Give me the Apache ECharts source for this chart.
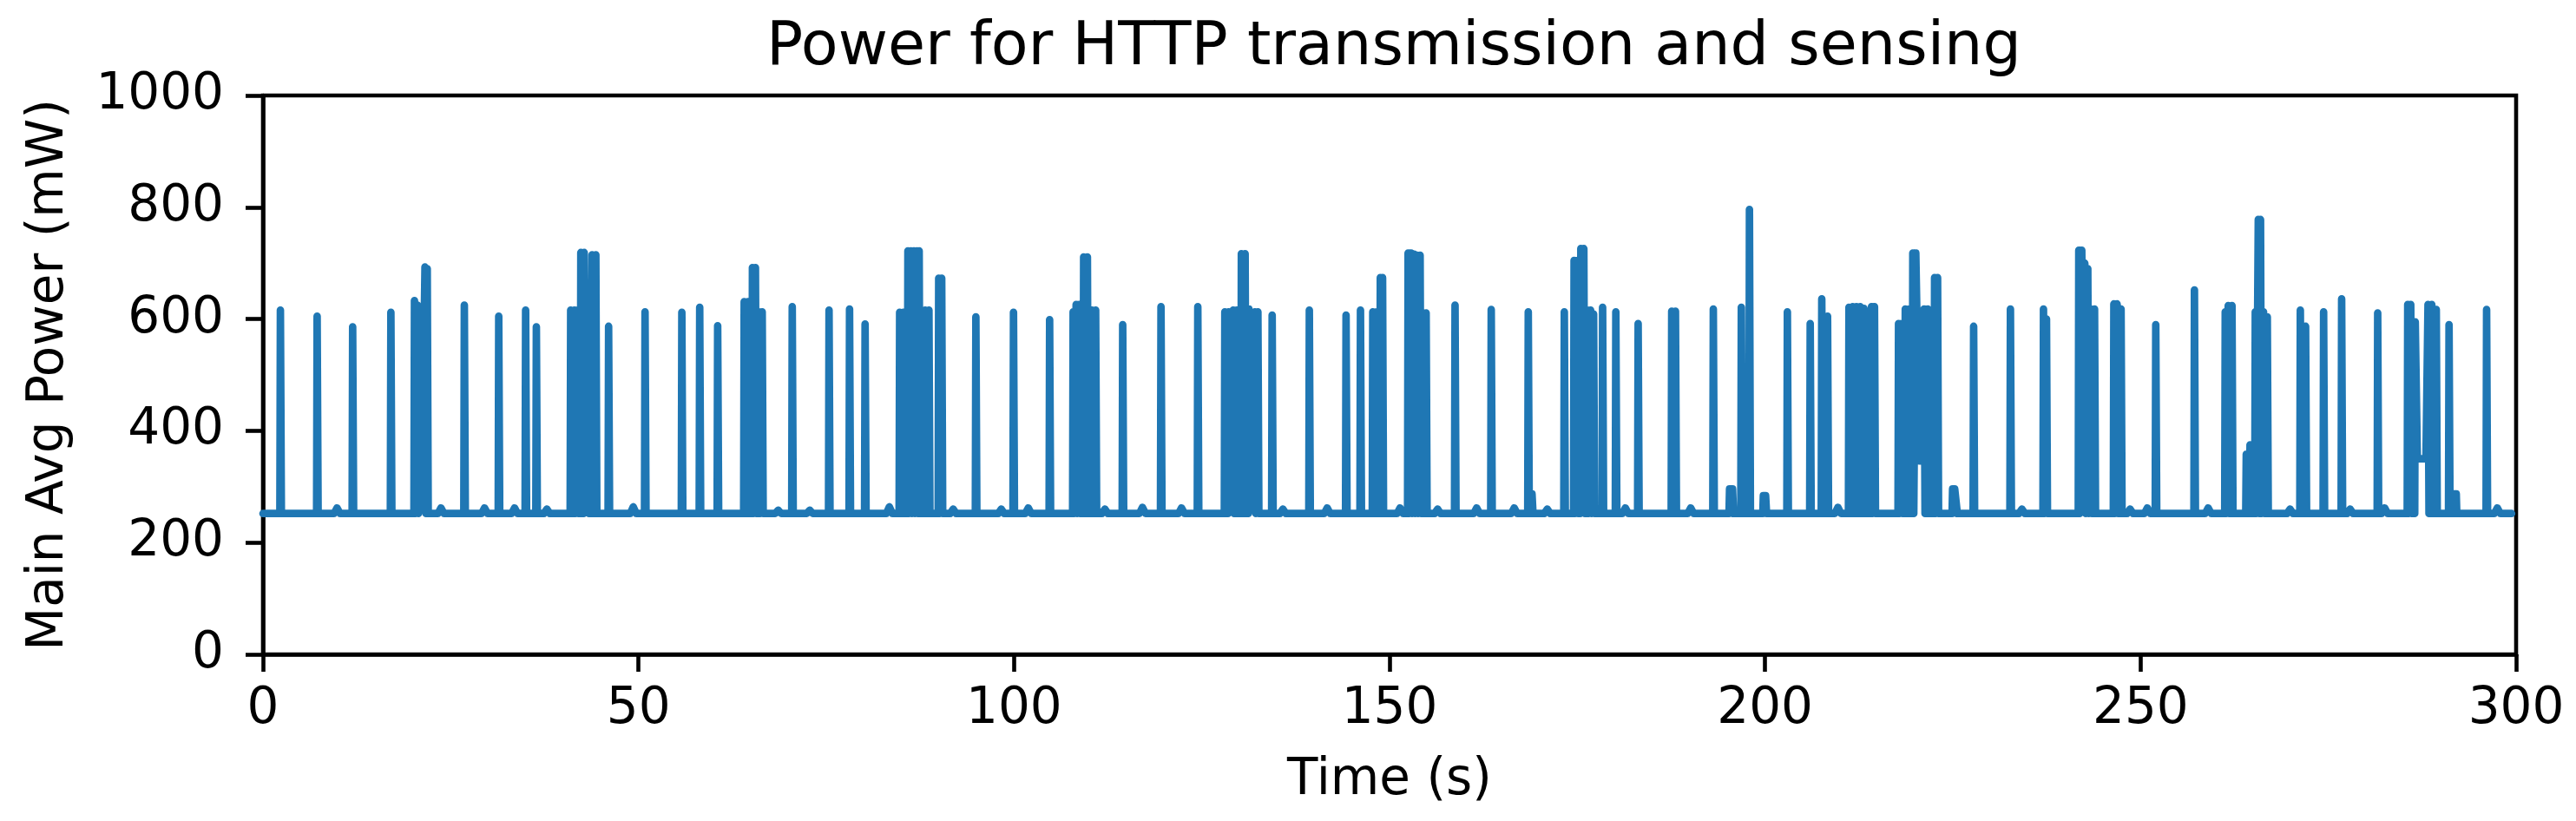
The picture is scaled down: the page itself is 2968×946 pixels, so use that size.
<!DOCTYPE html>
<html>
<head>
<meta charset="utf-8">
<script src="https://cdn.jsdelivr.net/npm/echarts@6/dist/echarts.min.js"></script>
<style>
html,body{margin:0;padding:0;background:#fff;}
#chart{width:2968px;height:946px;}
</style>
</head>
<body>
<div id="chart"></div>
<script>
// ---- data ----
const BASE = 252;
const xTicks = [0, 50, 100, 150, 200, 250, 300];
const yTicks = [0, 200, 400, 600, 800, 1000];
// transmission spikes: time (s)
const spikeTime = [
 2.35, 7.24, 11.97, 17.06, 20.2, 20.6, 21.0, 21.6, 21.9, 26.84, 31.42, 35.0, 36.43,
 41.0, 41.5, 41.9, 42.35, 42.8, 43.3, 43.85, 44.35, 46.05, 50.9, 55.8, 58.18, 60.57,
 64.1, 64.6, 65.2, 65.6, 66.1, 66.5, 70.5, 75.4, 78.13, 80.2,
 84.8, 85.3, 85.9, 86.3, 86.7, 87.1, 87.4, 88.2, 88.7, 90.0, 90.4, 94.95, 99.96, 104.77,
 107.9, 108.3, 108.7, 109.3, 109.8, 110.4, 110.9, 114.5, 119.6, 124.5,
 128.1, 128.6, 129.2, 129.7, 130.3, 130.8, 131.3, 132.1, 132.5, 134.4, 139.35, 144.24, 146.16,
 147.8, 148.3, 148.8, 149.1, 152.5, 152.9, 153.3, 153.7, 154.1, 154.6, 154.9, 158.75, 163.57,
 168.5, 169.0, 173.3, 174.6, 175.0, 175.5, 175.9, 176.4, 176.8, 177.2, 178.4, 180.16, 183.13,
 187.6, 188.1, 193.14, 195.3, 195.7, 196.87, 197.95, 199.8, 200.1, 203.0, 206.04, 207.58, 208.35,
 211.2, 211.7, 212.2, 212.7, 213.2, 214.2, 214.6, 217.8, 218.2, 218.7, 219.2, 219.7, 220.1,
 221.2, 221.7, 222.6, 223.0, 225.0, 225.5, 227.8, 232.7, 237.1, 237.5,
 241.8, 242.2, 242.6, 243.0, 243.4, 243.9, 246.47, 246.9, 247.43, 252.05, 257.2,
 261.3, 261.7, 262.2, 264.1, 264.6, 265.3, 265.7, 266.0, 266.4, 266.9, 271.3, 272.0, 274.4,
 276.8, 281.6, 285.6, 286.0, 286.6, 287.2, 287.7, 288.3, 288.8, 289.4, 291.1, 291.8, 292.0, 296.1
];
// transmission spikes: peak power (mW)
const spikePeak = [
 616, 605, 586, 612, 633, 625, 615, 693, 690, 625, 605, 616, 586,
 616, 616, 616, 719, 719, 616, 715, 715, 587, 613, 612, 621, 588,
 631, 631, 692, 692, 613, 613, 622, 616, 618, 591,
 612, 612, 722, 722, 722, 722, 722, 616, 616, 673, 673, 604, 612, 599,
 613, 626, 626, 711, 711, 616, 616, 590, 622, 622,
 613, 613, 616, 616, 717, 717, 618, 613, 613, 607, 616, 607, 616,
 613, 613, 674, 674, 718, 718, 716, 714, 714, 611, 611, 625, 617,
 613, 287, 613, 705, 705, 726, 726, 616, 616, 609, 621, 613, 592,
 614, 614, 618, 296, 296, 621, 796, 284, 284, 613, 592, 636, 605,
 621, 622, 622, 622, 619, 622, 622, 592, 592, 618, 618, 718, 718,
 618, 618, 674, 674, 296, 296, 587, 618, 618, 600,
 723, 723, 700, 690, 618, 618, 627, 627, 618, 590, 652,
 613, 624, 624, 358, 375, 613, 778, 778, 613, 604, 616, 587, 613,
 636, 611, 626, 626, 595, 350, 350, 626, 626, 617, 590, 287, 287, 617
];
// partial drops between neighbouring spikes (trace does not return to idle)
const dipTime  = [21.2, 43.05, 128.85, 131.7, 175.7, 195.5, 199.95, 220.55, 225.25, 242.35, 286.85, 287.45, 288.0, 291.9];
const dipLevel = [338, 338, 441, 364, 328, 296, 284, 346, 296, 335, 350, 350, 350, 287];
// small ripples of the idle baseline (s, mW)
const rippleTime = [9.86, 23.7, 29.5, 33.5, 37.8, 49.3, 68.6, 72.8, 83.4, 91.9, 98.3, 101.9,
 112.1, 117.1, 122.3, 135.8, 141.7, 151.4, 156.4, 161.6, 166.6, 171.0, 181.4, 190.1,
 209.7, 234.2, 248.6, 250.9, 259.0, 269.9, 277.9, 282.5, 297.5];
const rippleValue = [262, 262, 262, 262, 260, 264, 258, 258, 264, 260, 260, 262,
 260, 263, 262, 260, 262, 262, 260, 262, 262, 260, 262, 262,
 263, 260, 260, 262, 262, 260, 260, 262, 262];
const traceStart = 0.0, traceEnd = 299.4;

// ---- build the trace ----
function dipBetween(a, b) { return dipTime.some(d => d > a && d < b); }
const pts = [[traceStart, BASE], [traceEnd, BASE]];
for (let i = 0; i < spikeTime.length; i++) {
  const t = spikeTime[i], p = spikePeak[i];
  const prev = i > 0 ? spikeTime[i - 1] : -1, next = i < spikeTime.length - 1 ? spikeTime[i + 1] : 1e9;
  if (!dipBetween(prev, t)) pts.push([t - 0.1, BASE]);
  pts.push([t - 0.03, p], [t + 0.03, p]);
  if (!dipBetween(t, next)) pts.push([t + 0.1, BASE]);
}
for (let i = 0; i < dipTime.length; i++) pts.push([dipTime[i], dipLevel[i]]);
for (let i = 0; i < rippleTime.length; i++) {
  pts.push([rippleTime[i] - 0.4, BASE], [rippleTime[i], rippleValue[i]], [rippleTime[i] + 0.4, BASE]);
}
pts.sort((a, b) => a[0] - b[0]);

const FONT = 'DejaVu Sans';
const chart = echarts.init(document.getElementById('chart'), null, {renderer: 'canvas'});
chart.setOption({
  animation: false,
  backgroundColor: '#ffffff',
  title: {
    text: 'Power for HTTP transmission and sensing',
    left: 1601, top: 16, textAlign: 'center',
    textStyle: {fontFamily: FONT, fontSize: 70, fontWeight: 'normal', color: '#000'}
  },
  grid: {left: 303, right: 69, top: 110, bottom: 192, show: true,
         borderColor: '#000', borderWidth: 4.6, backgroundColor: 'transparent'},
  xAxis: {
    type: 'value', min: xTicks[0], max: xTicks[xTicks.length - 1], interval: 50,
    name: 'Time (s)', nameLocation: 'middle', nameGap: 117,
    nameTextStyle: {fontFamily: FONT, fontSize: 58, color: '#000'},
    axisLine: {show: true, lineStyle: {color: '#000', width: 4.6}},
    axisTick: {show: true, inside: false, length: 20, lineStyle: {color: '#000', width: 4.6}},
    axisLabel: {margin: 35, fontFamily: FONT, fontSize: 58, color: '#000', formatter: v => String(v)},
    splitLine: {show: false}
  },
  yAxis: {
    type: 'value', min: yTicks[0], max: yTicks[yTicks.length - 1], interval: 200,
    name: 'Main Avg Power (mW)', nameLocation: 'middle', nameGap: 217, nameRotate: 90,
    nameTextStyle: {fontFamily: FONT, fontSize: 58, color: '#000'},
    axisLine: {show: true, lineStyle: {color: '#000', width: 4.6}},
    axisTick: {show: true, inside: false, length: 20, lineStyle: {color: '#000', width: 4.6}},
    axisLabel: {margin: 45, fontFamily: FONT, fontSize: 58, color: '#000', formatter: v => String(v)},
    splitLine: {show: false}
  },
  series: [{
    type: 'line', data: pts, showSymbol: false, symbol: 'none',
    lineStyle: {color: '#1f77b4', width: 8.7, join: 'round', cap: 'round'},
    clip: true
  }]
});
</script>
</body>
</html>
